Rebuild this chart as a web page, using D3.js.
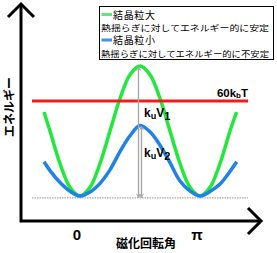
<!DOCTYPE html>
<html><head><meta charset="utf-8">
<script src="https://cdn.jsdelivr.net/npm/d3@7"></script>
<style>html,body{margin:0;padding:0;background:#fff;}svg{display:block;}</style>
</head><body>
<script>
// magnetization rotation angle (degrees)
const angles = [-54,-45,-30,-15,0,15,30,45,60,75,90,105,120,135,150,165,180,195,210,225,235];
// energy (in kBT units) – large grain
const largeGrain = [53,41,20.5,5.5,0,5.5,20.5,41,61.5,76.5,82,76.5,61.5,41,20.5,5.5,0,5.5,20.5,41,53];
// energy – small grain
const smallGrain = [21.6,16,8.5,3,0,2.5,8,16.5,28,38,44.5,40.5,32,21,9.5,3.2,0,2.8,7.5,15.5,21.6];
const thermalLevel = 60;
const tickLabels = ["0","π"];
const tickAngles = [0,180];
const legendNames = ["結晶粒大","結晶粒小"];
const legendNotes = ["熱揺らぎに対してエネルギー的に安定","熱揺らぎに対してエネルギー的に不安定"];

const W=277,H=253;
const svg=d3.select("body").append("svg").attr("width",W).attr("height",H);
const x=d3.scaleLinear().domain([0,180]).range([80,200]);
const y=d3.scaleLinear().domain([0,82]).range([196,66]);
const jp='"Noto Sans CJK JP","Noto Sans",sans-serif';
const green="#22e83c", blue="#1e82e6", red="#f01c1c", gray="#a8a8a8";

// baseline (dotted)
svg.append("line").attr("x1",32).attr("x2",248).attr("y1",y(-1.2)).attr("y2",y(-1.2))
  .attr("stroke",gray).attr("stroke-width",1.2).attr("stroke-dasharray","1.5,1");

// curves
const line=d3.line().x((d,i)=>x(angles[i])).y(d=>y(d)).curve(d3.curveCatmullRom.alpha(0.5));
svg.append("path").attr("d",line(largeGrain)).attr("fill","none").attr("stroke",green).attr("stroke-width",3.5);
svg.append("path").attr("d",line(smallGrain)).attr("fill","none").attr("stroke",blue).attr("stroke-width",3.5);

// thermal level
svg.append("line").attr("x1",32).attr("x2",248).attr("y1",y(thermalLevel)).attr("y2",y(thermalLevel))
  .attr("stroke",red).attr("stroke-width",3);
const t60=svg.append("text").attr("x",248).attr("y",y(thermalLevel)-4).attr("text-anchor","end")
  .attr("font-family","Arial, 'Liberation Sans', sans-serif").attr("font-weight","bold").attr("font-size",11.5).attr("fill","#000");
t60.append("tspan").text(thermalLevel+"k");
t60.append("tspan").text("b").attr("font-size",8).attr("dy",1);
t60.append("tspan").text("T").attr("dy",-1);

// gray double arrows
const defs=svg.append("defs");
defs.append("marker").attr("id","ah").attr("viewBox","0 0 8 8").attr("refX",7).attr("refY",4)
  .attr("markerWidth",5).attr("markerHeight",5).attr("orient","auto-start-reverse").attr("markerUnits","userSpaceOnUse")
  .append("path").attr("d","M1,1 L7,4 L1,7").attr("fill","none").attr("stroke",gray).attr("stroke-width",1.6);
const peakLarge=d3.max(largeGrain), peakSmall=d3.max(smallGrain);
svg.append("line").attr("x1",x(90)-1.5).attr("x2",x(90)-1.5).attr("y1",y(peakLarge)+1).attr("y2",y(-1))
  .attr("stroke",gray).attr("stroke-width",1.4).attr("marker-start","url(#ah)").attr("marker-end","url(#ah)");
svg.append("line").attr("x1",x(90)+1.5).attr("x2",x(90)+1.5).attr("y1",y(peakSmall)+1).attr("y2",y(-1))
  .attr("stroke",gray).attr("stroke-width",1.4).attr("marker-start","url(#ah)").attr("marker-end","url(#ah)");

function kuV(yy,sub){
  const t=svg.append("text").attr("x",x(90)+4).attr("y",yy).attr("font-family","Arial, 'Liberation Sans', sans-serif")
    .attr("font-weight","bold").attr("font-size",12).attr("fill","#000");
  t.append("tspan").text("k");
  t.append("tspan").text("u").attr("font-size",9).attr("dy",2);
  t.append("tspan").text("V").attr("dy",-2);
  t.append("tspan").text(sub).attr("font-size",11).attr("dy",3);
}
kuV(117,"1");
kuV(157,"2");

// axes
svg.append("path").attr("d","M21,5 L21,221 L260,221").attr("fill","none").attr("stroke","#000").attr("stroke-width",3);
svg.append("path").attr("d","M8,17 L21,4 L34,17").attr("fill","none").attr("stroke","#000").attr("stroke-width",3);
svg.append("path").attr("d","M248,208 L261,221 L248,234").attr("fill","none").attr("stroke","#000").attr("stroke-width",3);

// tick labels
svg.selectAll("text.tick").data(tickLabels).join("text").attr("class","tick")
  .attr("x",(d,i)=>x(tickAngles[i])-3).attr("y",240).attr("text-anchor","middle")
  .attr("font-family","Arial, 'Liberation Sans', sans-serif").attr("font-weight","bold").attr("font-size",15).text(d=>d);

// axis titles
svg.append("text").attr("x",146).attr("y",248).attr("text-anchor","middle").attr("font-family",jp)
  .attr("font-weight","bold").attr("font-size",12).text("磁化回転角");
svg.append("text").attr("transform","translate(14,107) rotate(-90)").attr("text-anchor","middle").attr("font-family",jp)
  .attr("font-weight","bold").attr("font-size",12).text("エネルギー");

// legend
const lg=svg.append("g");
lg.append("rect").attr("x",99.5).attr("y",6.5).attr("width",174).attr("height",53).attr("fill","#fff").attr("stroke","#000").attr("stroke-width",1);
const swatch=["#5ce87a","#3f93e8"];
[0,1].forEach(i=>{
  const yy=14.5+i*25.5;
  lg.append("line").attr("x1",101.5).attr("x2",112).attr("y1",yy).attr("y2",yy).attr("stroke",swatch[i]).attr("stroke-width",3);
  lg.append("text").attr("x",113).attr("y",yy+4).attr("font-family",jp).attr("font-size",10).attr("textLength",42).text(legendNames[i]);
  lg.append("text").attr("x",101).attr("y",yy+16.5).attr("font-family",jp).attr("font-size",8.5)
    .attr("textLength",168).attr("lengthAdjust","spacingAndGlyphs").text(legendNotes[i]);
});
</script>
</body></html>
